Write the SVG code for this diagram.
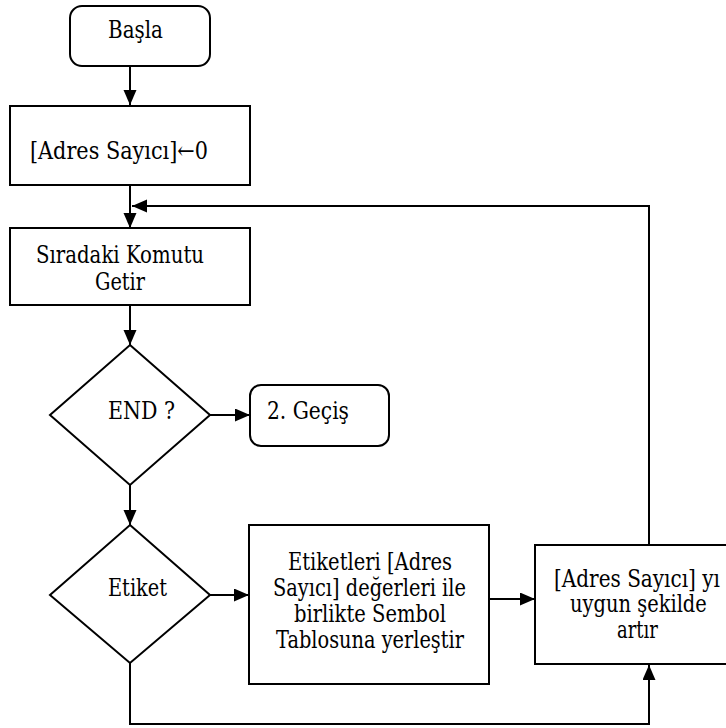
<svg xmlns="http://www.w3.org/2000/svg" width="726" height="728" viewBox="0 0 726 728">
  <style>
    .box { fill: #ffffff; stroke: #000000; stroke-width: 2; }
    .conn { fill: none; stroke: #000000; stroke-width: 2; }
  </style>
  <defs>
    <marker id="arrow" markerUnits="userSpaceOnUse" markerWidth="16" markerHeight="14" refX="15" refY="6.5" orient="auto">
      <path d="M0,0 L15,6.5 L0,13 Z" fill="#000000"/>
    </marker>
  </defs>
  <rect width="726" height="728" fill="#ffffff"/>

  <!-- connectors -->
  <g id="connectors">
    <line class="conn" x1="130" y1="66" x2="130" y2="105" marker-end="url(#arrow)"/>
    <line class="conn" x1="130" y1="185" x2="130" y2="228" marker-end="url(#arrow)"/>
    <polyline class="conn" points="649,545 649,206 132,206" marker-end="url(#arrow)"/>
    <line class="conn" x1="130" y1="305" x2="130" y2="345" marker-end="url(#arrow)"/>
    <line class="conn" x1="210" y1="415" x2="250" y2="415" marker-end="url(#arrow)"/>
    <line class="conn" x1="130" y1="485" x2="130" y2="525" marker-end="url(#arrow)"/>
    <line class="conn" x1="210" y1="595" x2="249" y2="595" marker-end="url(#arrow)"/>
    <line class="conn" x1="489" y1="599" x2="535" y2="599" marker-end="url(#arrow)"/>
    <polyline class="conn" points="130,663 130,724 649,724 649,665" marker-end="url(#arrow)"/>
  </g>

  <g font-family="'DejaVu Serif', 'Liberation Serif', serif" font-size="24" fill="#000000">
    <!-- start -->
    <g id="start">
      <rect class="box" x="70" y="6" width="140" height="60" rx="12" ry="12"/>
      <text x="108" y="38" textLength="55" lengthAdjust="spacingAndGlyphs">Başla</text>
    </g>

    <!-- reset the address counter -->
    <g id="init">
      <rect class="box" x="10" y="106" width="240" height="79"/>
      <text transform="translate(30,159) scale(0.87,1)" x="0" y="0" textLength="204.6" lengthAdjust="spacingAndGlyphs">[Adres Sayıcı]←0</text>
    </g>

    <!-- fetch next instruction -->
    <g id="fetch">
      <rect class="box" x="10" y="228" width="240" height="77"/>
      <text x="36" y="263" textLength="168" lengthAdjust="spacingAndGlyphs">Sıradaki Komutu</text>
      <text x="95" y="290" textLength="50" lengthAdjust="spacingAndGlyphs">Getir</text>
    </g>

    <!-- END test -->
    <g id="end-test">
      <polygon class="box" points="130,345 210,415 130,485 50,415"/>
      <text x="108" y="419" textLength="67" lengthAdjust="spacingAndGlyphs">END ?</text>
    </g>

    <!-- second pass -->
    <g id="pass2">
      <rect class="box" x="250" y="385" width="139" height="61" rx="11" ry="11"/>
      <text x="267" y="419" textLength="82" lengthAdjust="spacingAndGlyphs">2. Geçiş</text>
    </g>

    <!-- label test -->
    <g id="label-test">
      <polygon class="box" points="130,525 210,595 130,663 50,595"/>
      <text x="108" y="596" textLength="59" lengthAdjust="spacingAndGlyphs">Etiket</text>
    </g>

    <!-- add to symbol table -->
    <g id="symtab">
      <rect class="box" x="249" y="525" width="240" height="159"/>
      <text x="288" y="570" textLength="164" lengthAdjust="spacingAndGlyphs">Etiketleri [Adres</text>
      <text x="273" y="596" textLength="193" lengthAdjust="spacingAndGlyphs">Sayıcı] değerleri ile</text>
      <text x="294" y="622" textLength="152" lengthAdjust="spacingAndGlyphs">birlikte Sembol</text>
      <text x="276" y="648" textLength="188" lengthAdjust="spacingAndGlyphs">Tablosuna yerleştir</text>
    </g>

    <!-- advance the address counter; its right side runs past the page edge -->
    <g id="advance">
      <rect class="box" x="535" y="545" width="192" height="119"/>
      <text transform="translate(554,587) scale(0.8,1)" x="0" y="0" textLength="207.5" lengthAdjust="spacingAndGlyphs">[Adres Sayıcı] yı</text>
      <text transform="translate(570,612) scale(0.8,1)" x="0" y="0" textLength="171" lengthAdjust="spacingAndGlyphs">uygun şekilde</text>
      <text transform="translate(617,638) scale(0.8,1)" x="0" y="0" textLength="51" lengthAdjust="spacingAndGlyphs">artır</text>
    </g>
  </g>
</svg>
